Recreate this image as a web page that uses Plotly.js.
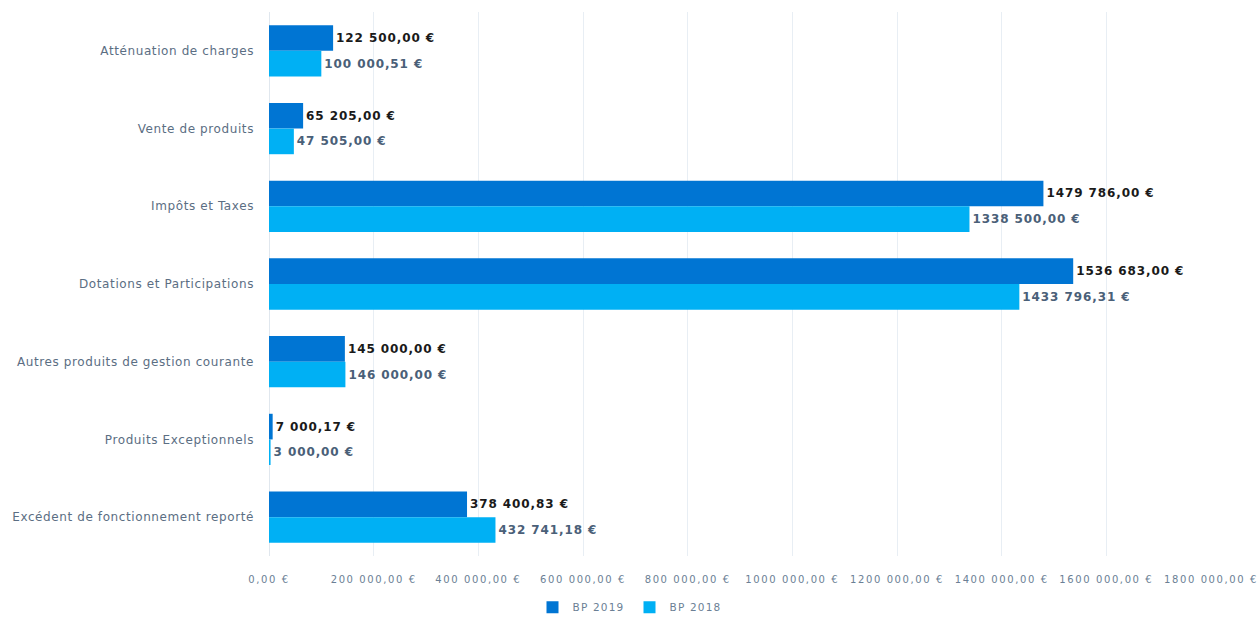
<!DOCTYPE html>
<html>
<head>
<meta charset="utf-8">
<script src="https://cdn.plot.ly/plotly-3.0.1.min.js"></script>
<style>
html,body{margin:0;padding:0;background:#fff;}
#chart{width:1259px;height:617px;}
.bartext{letter-spacing:0.9px;}
.xtick text{letter-spacing:1.6px;}
.ytick text{letter-spacing:0.6px;}
.legendtext{letter-spacing:1.2px;}
</style>
</head>
<body>
<div id="chart"></div>
<script>
const categories = [
  "Atténuation de charges",
  "Vente de produits",
  "Impôts et Taxes",
  "Dotations et Participations",
  "Autres produits de gestion courante",
  "Produits Exceptionnels",
  "Excédent de fonctionnement reporté"
];
const bp2019 = [122500.00, 65205.00, 1479786.00, 1536683.00, 145000.00, 7000.17, 378400.83];
const bp2018 = [100000.51, 47505.00, 1338500.00, 1433796.31, 146000.00, 3000.00, 432741.18];
const bp2019Labels = ["122 500,00 €", "65 205,00 €", "1479 786,00 €", "1536 683,00 €", "145 000,00 €", "7 000,17 €", "378 400,83 €"];
const bp2018Labels = ["100 000,51 €", "47 505,00 €", "1338 500,00 €", "1433 796,31 €", "146 000,00 €", "3 000,00 €", "432 741,18 €"];
const tickVals = [0, 200000, 400000, 600000, 800000, 1000000, 1200000, 1400000, 1600000, 1800000];
const tickText = ["0,00 €", "200 000,00 €", "400 000,00 €", "600 000,00 €", "800 000,00 €", "1000 000,00 €", "1200 000,00 €", "1400 000,00 €", "1600 000,00 €", "1800 000,00 €"];

const FONT = 'DejaVu Sans, sans-serif';

const data = [
  {
    type: 'bar', orientation: 'h', name: 'BP 2019',
    y: categories, x: bp2019, text: bp2019Labels,
    textposition: 'outside', cliponaxis: false,
    textfont: {family: FONT, size: 12, color: '#1a1a1a', weight: 'bold'},
    marker: {color: '#0075D3'},
    hoverinfo: 'none'
  },
  {
    type: 'bar', orientation: 'h', name: 'BP 2018',
    y: categories, x: bp2018, text: bp2018Labels,
    textposition: 'outside', cliponaxis: false,
    textfont: {family: FONT, size: 12, color: '#4A6078', weight: 'bold'},
    marker: {color: '#00B0F4'},
    hoverinfo: 'none'
  }
];

const layout = {
  width: 1259, height: 617,
  margin: {l: 269, r: 48, t: 12, b: 61, autoexpand: false},
  paper_bgcolor: '#ffffff', plot_bgcolor: '#ffffff',
  barmode: 'group', bargap: 0.34, bargroupgap: 0,
  showlegend: true,
  legend: {orientation: 'h', x: 0.5, xref: 'container', xanchor: 'center',
           y: 0.016, yref: 'container', yanchor: 'middle',
           font: {family: FONT, size: 10.5, color: '#6B7F95'},
           itemwidth: 30, tracegroupgap: 0, traceorder: 'normal'},
  xaxis: {
    range: [0, 1800000], tickvals: tickVals, ticktext: tickText,
    showgrid: true, gridcolor: '#E8EEF4', zeroline: true, zerolinecolor: '#E0E7EE',
    ticks: '', ticklabelstandoff: 16,
    tickfont: {family: FONT, size: 10, color: '#6B7F95'},
    showline: false, fixedrange: true
  },
  yaxis: {
    autorange: 'reversed', type: 'category',
    showgrid: false, zeroline: false, ticks: '', ticklabelstandoff: 14,
    tickfont: {family: FONT, size: 12, color: '#5B6E83'},
    showline: false, fixedrange: true
  },
  font: {family: FONT}
};

Plotly.newPlot('chart', data, layout, {displayModeBar: false, staticPlot: true});
</script>
</body>
</html>
